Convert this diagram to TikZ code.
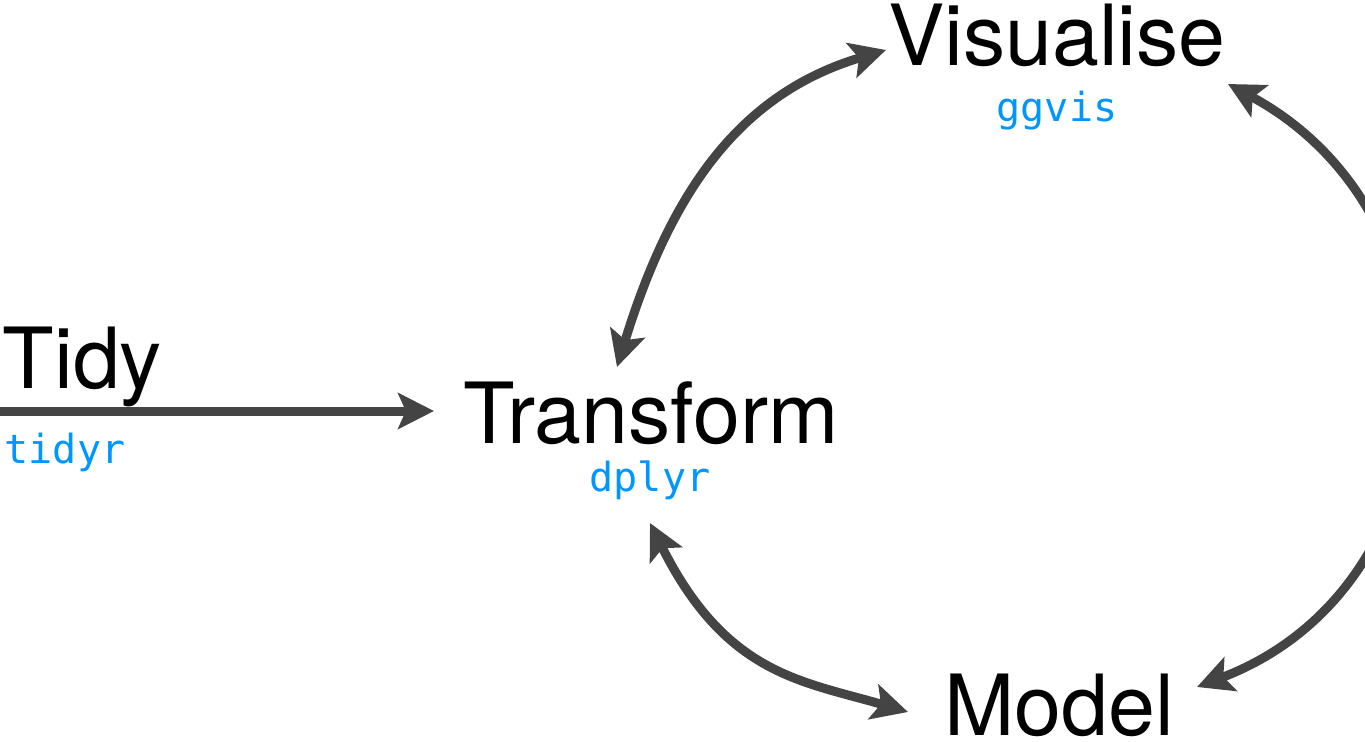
\documentclass[tikz,border=0pt]{standalone}
\usepackage{fontspec}
\setmainfont{TeX Gyre Heros}
\newfontfamily\pkgfont{DejaVu Sans Mono}
\usetikzlibrary{arrows.meta}
\definecolor{flowgray}{HTML}{444444}
\definecolor{pkgblue}{HTML}{0096FF}

\begin{document}
\begin{tikzpicture}[x=0.01cm,y=-0.01cm,
  >={Stealth[length=10.2pt,width=10.2pt,inset=2.2pt]},
  stage/.style={font=\fontsize{24}{28}\selectfont,inner sep=0pt,anchor=base},
  pkg/.style={font=\pkgfont\fontsize{11.4}{13}\selectfont,text=pkgblue,inner sep=0pt,anchor=base},
  flow/.style={draw=flowgray,line width=2.56pt}]
  \useasboundingbox (0,0) rectangle (1365,742);
  \clip (0,0) rectangle (1365,742);
  % stages
  \node[stage,anchor=base west] (tidy) at (2,388) {Tidy};
  \node[pkg,anchor=base west] (tidyr) at (4,463) {tidyr};
  \node[stage] (trans) at (651,443) {Transform};
  \node[pkg] (dplyr) at (650,491) {dplyr};
  \node[stage] (vis) at (1057,65) {Visualise};
  \node[pkg] (ggvis) at (1057,121) {ggvis};
  \node[stage] (model) at (1059,735) {Model};
  \coordinate (src) at (0,411);
  % arrows
  \draw[flow,->] (src) -- ([shift={(-217,-32)}]trans.base);
  \draw[flow,<->] ([shift={(-34,-76)}]trans.base) .. controls +(55,-179) and +(-144,43) .. ([shift={(-171,-15)}]vis.base);
  \draw[flow,<->] ([shift={(-1,80)}]trans.base) .. controls +(76,152) and +(-106,-31) .. ([shift={(-151,-23)}]model.base);
  \draw[flow,<->] ([shift={(171,19)}]vis.base) .. controls +(252,136) and +(268,-102) .. ([shift={(138,-48)}]model.base);
\end{tikzpicture}
\end{document}
